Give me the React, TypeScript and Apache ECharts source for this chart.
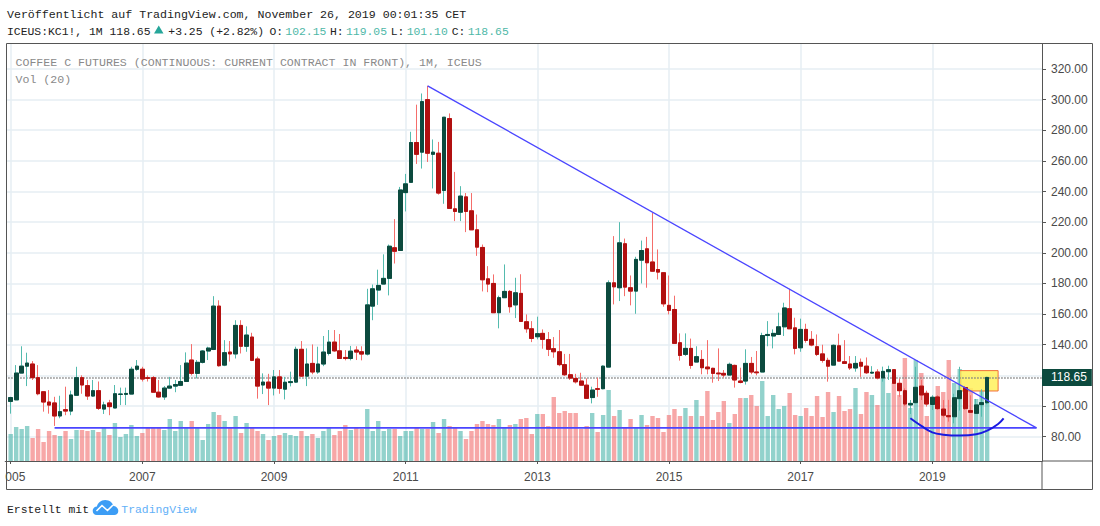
import React, { useEffect, useRef } from "react";
import * as echarts from "echarts";

const opens = [103,104,121.5,126,127.4,118.5,109.3,102.6,102,93.5,97.6,96.7,107,118.5,113.3,106.5,110,98,102,98.7,107.6,107.6,107.8,124,124,118.5,118.5,109,105.9,111.7,113,113.5,116,130,121.3,128.5,135.9,136.9,165.2,126.7,135.2,134,152.6,139,145,130.7,113.7,115.6,111.7,119,111,115.3,115.6,137,119.5,127.8,122.2,127.4,134.3,141.7,136,131.7,131,136.5,135.4,133.9,165.2,175.7,179.6,183.3,203.3,201.5,239.3,246,272,265.7,300,264.3,265,240.7,287.6,228.7,226.5,236.5,227.4,215,203.5,183,180,160.9,170.7,174.8,166,173.5,155,150.4,145.2,147.4,143.3,137.4,135.4,127,120.4,118,116.3,113.6,105.5,111.3,111.3,125.4,180.4,177.2,205.9,177.2,175,195.2,202.6,194,189.1,187,165.7,163,141.3,133.7,137.6,128.7,130.4,125.4,124.6,121.5,121.3,120.2,126.5,116.3,116.3,127.8,122.2,122.2,146,145.7,146.7,151.7,163.5,151,138,150,143.5,138.7,134,129.8,126.7,139.3,128.9,127.4,124.8,128.5,126,121.5,122.2,118.3,122.4,123.7,114.8,110,100.7,102.2,113,108.3,101,105.9,98,93.7,93,104.8,112,97,95.2,100.9,102.15];
const closes = [105.5,121.5,126,128,118.5,108,102.6,100.6,93.5,96.3,96.7,107.2,118.5,113.7,106.5,110,98.5,100.7,99.6,108,107.8,108.2,124,126,117.6,118,109,105.9,111.7,113,114,116,128,121.3,128.5,135.9,137.8,165.2,126.3,134.8,134,152.6,139,146.3,129.8,113,115.6,111.7,119,111.5,115.5,115.9,137,119.5,127.4,122.2,127.4,135.2,141.7,136,131,131,135.8,135.2,133.9,166,176.5,178.7,183.3,204.3,201,241,245,272,264.3,298.7,265,265.7,239,288.5,229,227,237,227,215,203.7,182.4,179.6,160.9,170.7,174.8,164.8,173.9,155.2,150.4,144.1,147.2,143.5,137,135.4,127,120.4,118.2,115.8,113.6,105,110.4,110.9,126,180.4,177.8,206.5,177.6,175,195.7,201.5,193.5,188,187.4,166.7,162.4,140.9,133,137.6,126.5,132.2,125,124.3,121.3,121,120.2,127.2,117,115.4,127.8,122.2,121.7,146,146.7,147.4,151.7,164,150.4,137.6,150,142.8,139.8,133.7,129.8,126,139.6,129.3,127.8,124.8,127.8,126,121.7,122,118.3,122.6,123.7,114.8,110,101.3,101.7,112.2,107.2,101.3,105.7,98.3,94,93,105.4,110,98.3,95.9,100.7,102.2,118.65];
const lows = [95,104,121.5,113,117,107,96.3,95,87,92,94,94,107,108,104,106,97.4,94.8,94,98.7,100.6,100.6,107.8,123,116,116,109,105.4,104,111.5,109,113,116,120,118,127.8,130,136.5,125.7,126,129,131,134.3,135.4,129.3,104.8,107.8,100.6,106.9,108,104.3,112.8,115,119,113,120.7,121,126,133,135.4,131,129.8,129.8,130,129.8,133,156,166,179.6,172.2,193,201.5,227,246,258,255,259.3,242,238,232,229,220.7,220.7,213.5,215,198,174.8,174.3,160.9,150.7,170.7,160.9,157.4,155.2,147.8,141.7,143.5,137.4,132.6,131.5,126,119.6,117,114.7,113.6,105,101.7,106,110.9,125.4,166.3,168.5,171.7,165.7,160.2,180,177.2,187.6,182.6,164.8,159.8,140.9,129.6,132.6,124.3,128.7,120.7,120.7,115.2,116.3,118.5,120.2,112,114.8,114,120.7,120,122.2,139,137.6,146.3,145.7,150.4,133.7,135.4,141.3,139,132.6,128.3,115.9,126.7,129.3,127.8,123.5,122.4,119,120.9,120.9,117.4,115.9,117,114.8,106,100,94.8,101.7,103.9,99.6,97.4,97.4,92.6,89.8,88.7,97,97.4,95.6,95.2,93,101.1];
const highs = [106,126.7,139,134.8,129.3,126.7,109.5,110.4,106,106.7,112.6,110,125.6,120,117,117,116,102.8,104,113.7,112,112,125.6,130,125.6,120,119.5,117,113,119,117,126.7,135,140.4,130,136.5,138.7,171.7,169,143,142.4,156,156,152,147.8,132.2,121.3,121,123.5,123.5,119,122.4,138.7,142.4,137.6,140.2,138.7,145.7,149.6,149.6,147,136.5,139.2,139,139,176.5,179.3,189,199,205.4,222,243,251.5,279,296.7,304,309,274,272.4,288.5,291,252.8,243.5,239,239,225,205.4,191.3,185.9,172,192.4,175.7,183.7,186,159.8,155.4,158.3,150,148.3,145,149.6,134,134,121,121.7,118,112.6,118.5,126.5,182,210.9,220,209.3,185.2,197.4,208,210.4,226,202.2,187.4,185.2,172,147.4,147.4,144,139,136.5,143,125,137.6,123.5,128.3,127,125,137,132,135.9,147.8,155.4,150,160.9,167.4,176.5,157.6,157,153.7,148.9,146.7,140,131.5,140.2,147.2,143,132.6,132.6,131,131.7,126,124,125.7,126.3,124,118,111.5,103.9,125.6,117,110,107,107,103.9,104,108,125.6,113,107,104.6,110.9,119.05];
const volumes = [27,34,32,35,23,32,19,30,26,25,30,22,31,31,30,31,29,33,26,38,24,27,36,25,28,33,33,33,31,42,30,40,34,40,33,21,37,49,46,40,33,45,28,38,33,30,27,21,25,26,28,26,25,30,25,27,23,30,33,26,30,36,31,33,32,52,30,40,30,32,32,25,30,30,34,32,32,39,28,42,35,34,30,22,30,37,40,37,36,42,34,36,37,42,43,27,47,47,35,64,48,50,48,48,32,35,48,29,46,71,45,51,33,42,33,46,36,45,43,29,46,52,45,53,45,61,45,70,41,49,60,38,47,63,63,66,55,80,45,66,52,55,68,46,45,53,45,65,44,69,49,65,50,52,73,47,69,66,56,83,68,78,66,103,53,101,88,45,58,75,69,101,78,92,74,73,62,71,60];

const yTicks = [80,100,120,140,160,180,200,220,240,260,280,300,320];
const lastPrice = 118.65;
const lastPriceLabel = "118.65";
const years = ["2005","2007","2009","2011","2013","2015","2017","2019"];

const trendHigh = [["2011-05",309],["2020-08",85.7]];
const supportLine = [["2005-09",85.7],["2020-08",85.7]];
const bowlCurve = [["2018-09",92],["2018-11",87],["2019-01",82.8],["2019-03",81.3],["2019-06",80.7],["2019-09",81.5],["2019-11",83.9],["2020-01",88.3],["2020-02",92]];
const zoneBox = { fromMonth: "2019-06", toMonth: "2020-01", top: 123.1, bottom: 109.8 };

const months: string[] = ["2004-12"];
for (let y = 2005; y <= 2020; y++) {
  for (let m = 1; m <= 12; m++) {
    if (months.length < 190) months.push(`${y}-${String(m).padStart(2, "0")}`);
  }
}

const UP_BODY = "#0c4a3e";
const DOWN_BODY = "#b11010";
const UP_WICK = "#54bbae";
const DOWN_WICK = "#f56e6b";
const UP_VOL = "rgba(38,166,154,0.5)";
const DOWN_VOL = "rgba(240,80,80,0.5)";
const GRID = "#e6eef3";
const AXIS = "#555";
const MONO = '"Liberation Mono", monospace';
const SANS = '"Liberation Sans", Arial, sans-serif';
const BLUE = "#4a45ff";

const CLOUD = "M4 15 C1.5 15 0 13 0 10.7 C0 8.2 2 6.4 4.2 6.4 C5 3 8 0 12.5 0 C17 0 20 2.8 20.7 6 C23.5 6 25.6 8.2 25.6 11 C25.6 13.4 23.7 15 21.6 15 Z";
echarts.graphic.registerShape("logo", echarts.graphic.extendPath(CLOUD, {}));

const isYearTick = (v: string) => v.endsWith("-01") && years.includes(v.slice(0, 4));
const pad = (a: any[]) => ["-", ...a];

function monoText(text: string, x: number, y: number, fill: string, size = 11.4) {
  return { type: "text", x, y, z: 50, style: { text, fill, font: `${size}px ${MONO}`, textVerticalAlign: "middle" } };
}

export default function App() {
  const ref = useRef<HTMLDivElement>(null);
  useEffect(() => {
    const chart = echarts.init(ref.current!, undefined, { renderer: "svg" });
    const wickData = opens.map((o, i) => [o, closes[i], lows[i], highs[i]]);
    const bodyData = opens.map((o, i) => [o, closes[i], Math.min(o, closes[i]), Math.max(o, closes[i])]);
    const blank = ["-", "-", "-", "-"];
    const HEAD = "#222";
    const TEAL = "#4fb8a8";
    chart.setOption({
      animation: false,
      backgroundColor: "#fff",
      grid: { left: 5.2, right: 58, top: 44, bottom: 65, containLabel: false },
      xAxis: {
        type: "category",
        boundaryGap: false,
        data: months,
        axisLine: { lineStyle: { color: AXIS, width: 1 } },
        axisTick: { interval: (_: number, v: string) => isYearTick(v), length: 3, lineStyle: { color: AXIS } },
        splitLine: { show: true, interval: (_: number, v: string) => isYearTick(v), lineStyle: { color: GRID, width: 1.5 } },
        axisLabel: {
          interval: (_: number, v: string) => isYearTick(v),
          margin: 10,
          color: "#4a4a4a",
          fontSize: 12,
          fontFamily: SANS,
          formatter: (v: string) => (v.startsWith("2005") ? "{first|005}" : v.slice(0, 4)),
          rich: { first: { padding: [0, 0, 0, 9.4], fontSize: 12, fontFamily: SANS, color: "#4a4a4a" } },
        },
      },
      yAxis: [
        {
          type: "value",
          position: "right",
          min: 64.1,
          max: 336.3,
          axisLine: { show: true, lineStyle: { color: AXIS, width: 1 } },
          axisTick: { show: true, length: 4, customValues: yTicks, lineStyle: { color: AXIS } },
          splitLine: { show: true, lineStyle: { color: GRID, width: 1.5 } },
          axisLabel: {
            customValues: yTicks,
            margin: 9,
            color: "#4a4a4a",
            fontSize: 12,
            fontFamily: SANS,
            formatter: (v: number) => v.toFixed(2),
          },
        },
        { type: "value", show: false, min: 0, max: 417, splitLine: { show: false } },
      ],
      series: [
        {
          name: "Vol (20)",
          type: "bar",
          yAxisIndex: 1,
          barWidth: 4.4,
          z: 1,
          data: pad(volumes.map((v, i) => ({
            value: v,
            itemStyle: { color: closes[i] >= opens[i] ? UP_VOL : DOWN_VOL },
          }))),
        },
        {
          name: "zone",
          type: "line",
          data: [],
          z: 2,
          markArea: {
            silent: true,
            z: 2,
            itemStyle: { color: "rgba(255,241,90,0.85)", borderColor: "#f2703a", borderWidth: 1 },
            data: [[
              { xAxis: zoneBox.fromMonth, yAxis: zoneBox.top },
              { xAxis: zoneBox.toMonth, yAxis: zoneBox.bottom },
            ]],
          },
        },
        {
          name: "KC1! wicks",
          type: "candlestick",
          barWidth: 4.2,
          z: 3,
          data: [blank, ...wickData],
          itemStyle: { color: UP_WICK, color0: DOWN_WICK, borderColor: UP_WICK, borderColor0: DOWN_WICK, borderWidth: 1 },
          markLine: {
            silent: true,
            symbol: "none",
            z: 3,
            lineStyle: { color: "#808080", type: "dotted", width: 1.5 },
            label: {
              show: true,
              position: "end",
              distance: 0,
              formatter: lastPriceLabel,
              color: "#fff",
              backgroundColor: UP_BODY,
              fontSize: 12,
              fontFamily: SANS,
              padding: [3, 5, 2, 9],
            },
            data: [{ yAxis: lastPrice }],
          },
        },
        {
          name: "KC1! bodies",
          type: "candlestick",
          barWidth: 4.2,
          z: 4,
          data: [blank, ...bodyData],
          itemStyle: { color: UP_BODY, color0: DOWN_BODY, borderColor: UP_BODY, borderColor0: DOWN_BODY, borderWidth: 1 },
        },
        { name: "Trend", type: "line", z: 6, symbol: "none", data: trendHigh, lineStyle: { color: BLUE, width: 1.3 } },
        { name: "Support", type: "line", z: 6, symbol: "none", data: supportLine, lineStyle: { color: BLUE, width: 1.7 } },
        { name: "Bowl", type: "line", z: 6, symbol: "none", smooth: 0.4, data: bowlCurve, lineStyle: { color: "#1a1ae0", width: 2 } },
      ],
      graphic: [
        { type: "rect", z: 40, shape: { x: 0, y: 40, width: 6, height: 420 }, style: { fill: "#fff" } },
        { type: "rect", z: 41, shape: { x: 6.5, y: 43.5, width: 1086, height: 446 }, style: { fill: "none", stroke: AXIS, lineWidth: 1 } },
        { type: "line", z: 41, shape: { x1: 1042, y1: 461, x2: 1042, y2: 489 }, style: { stroke: AXIS, lineWidth: 1 } },
        { type: "line", z: 41, shape: { x1: 1042, y1: 461, x2: 1092, y2: 461 }, style: { stroke: AXIS, lineWidth: 1 } },
        monoText("Veröffentlicht auf TradingView.com, November 26, 2019 00:01:35 CET", 7, 14.5, HEAD, 11.6),
        monoText("ICEUS:KC1!, 1M 118.65", 7, 31.5, HEAD),
        { type: "polygon", z: 50, shape: { points: [[154, 33.5], [163.5, 33.5], [158.75, 25.5]] }, style: { fill: "#26a69a" } },
        monoText("+3.25 (+2.82%)", 168.3, 31.5, HEAD),
        monoText("O:", 269.5, 31.5, HEAD),
        monoText("102.15", 285.3, 31.5, TEAL),
        monoText("H:", 330, 31.5, HEAD),
        monoText("119.05", 346, 31.5, TEAL),
        monoText("L:", 390.7, 31.5, HEAD),
        monoText("101.10", 406.7, 31.5, TEAL),
        monoText("C:", 451.7, 31.5, HEAD),
        monoText("118.65", 467.7, 31.5, TEAL),
        monoText("COFFEE C FUTURES (CONTINUOUS: CURRENT CONTRACT IN FRONT), 1M, ICEUS", 15.5, 62.5, "#8a8a8a", 11.6),
        monoText("Vol (20)", 15.5, 79.5, "#8a8a8a", 11.6),
        monoText("Erstellt mit", 7, 509.5, HEAD),
        { type: "logo", x: 92.7, y: 500, z: 50, style: { fill: "#3c9df5" } },
        { type: "polyline", z: 51, shape: { points: [[96.5, 511], [102, 505.5], [107.5, 510.5], [113, 505]] }, style: { stroke: "#fff", fill: "none", lineWidth: 1.6 } },
        monoText("TradingView", 121.3, 509.5, "#62b0f7"),
      ],
    });
    return () => chart.dispose();
  }, []);
  return <div ref={ref} style={{ position: "absolute", left: 0, top: 0, width: 1100, height: 526 }} />;
}
